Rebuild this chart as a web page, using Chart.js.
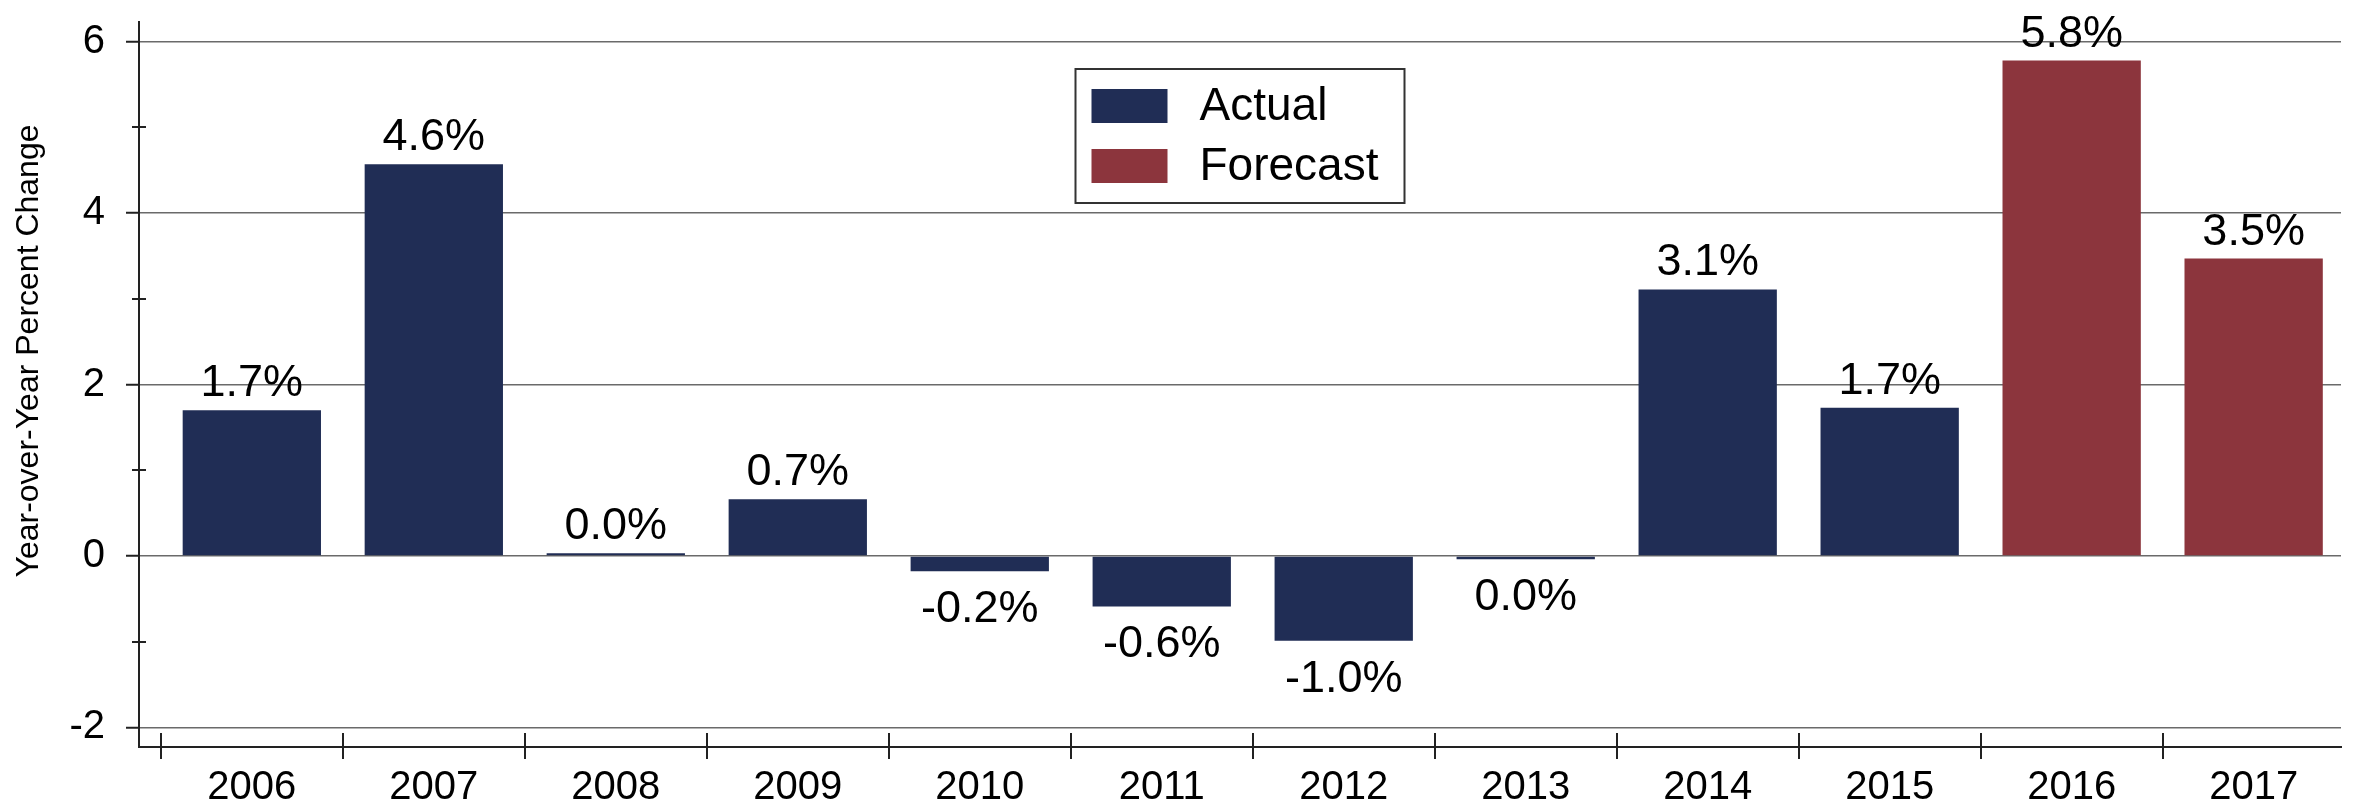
<!doctype html>
<html lang="en">
<head>
  <meta charset="utf-8">
  <title>Year-over-Year Percent Change</title>
  <script src="https://cdn.jsdelivr.net/npm/chart.js/dist/chart.umd.min.js"></script>
  <style>
    * { margin: 0; padding: 0; }
    body { background: #fff; }
    .chartBox { width: 2354px; height: 809px; }
  </style>
</head>
<body>
<div class="chartBox">
  <canvas id="myChart"></canvas>
</div>

<script>
// data
const years = [2006, 2007, 2008, 2009, 2010, 2011, 2012, 2013, 2014, 2015, 2016, 2017];
const actual = [1.7, 4.57, 0.03, 0.66, -0.18, -0.59, -0.99, -0.04, 3.11, 1.73, null, null];
const forecast = [null, null, null, null, null, null, null, null, null, null, 5.78, 3.47];
const yTicks = [-2, -1, 0, 1, 2, 3, 4, 5, 6];
const yTitle = 'Year-over-Year Percent Change';

const FONT = "'Liberation Sans', Arial, sans-serif";

function fmt(v) {
  let s = v.toFixed(1);
  if (s === '-0.0') s = '0.0';
  return s + '%';
}

function isMinor(v) {
  return Math.abs(v % 2) === 1;
}

// value labels above / below the bars
const barLabels = {
  id: 'barLabels',
  afterDatasetsDraw(chart) {
    const ctx = chart.ctx;
    ctx.save();
    ctx.font = '45px ' + FONT;
    ctx.fillStyle = '#000';
    ctx.textAlign = 'center';
    chart.data.datasets.forEach((ds, di) => {
      const meta = chart.getDatasetMeta(di);
      meta.data.forEach((bar, i) => {
        const v = ds.data[i];
        if (v == null) return;
        if (v >= 0) {
          ctx.textBaseline = 'alphabetic';
          ctx.fillText(fmt(v), bar.x, bar.y - 14);
        } else {
          ctx.textBaseline = 'top';
          ctx.fillText(fmt(v), bar.x, bar.y + 16);
        }
      });
    });
    ctx.restore();
  }
};

// small ticks on odd y values, inner half of the x ticks, and the y title
const axisExtras = {
  id: 'axisExtras',
  afterDraw(chart) {
    const ctx = chart.ctx;
    const area = chart.chartArea;
    const x = chart.scales.x;
    const y = chart.scales.y;
    ctx.save();
    ctx.strokeStyle = '#222';
    ctx.lineWidth = 2;
    ctx.beginPath();
    y.ticks.forEach(t => {
      if (isMinor(t.value)) {
        const py = Math.round(y.getPixelForValue(t.value));
        ctx.moveTo(area.left - 7, py);
        ctx.lineTo(area.left + 7, py);
      }
    });
    years.forEach(yr => {
      const px = x.getPixelForValue(yr - 0.5);
      if (px < area.left) return;
      ctx.moveTo(Math.round(px), area.bottom - 14);
      ctx.lineTo(Math.round(px), area.bottom);
    });
    ctx.stroke();

    ctx.translate(38, area.top + 329);
    ctx.rotate(-Math.PI / 2);
    ctx.font = '32px ' + FONT;
    ctx.fillStyle = '#000';
    ctx.textAlign = 'center';
    ctx.textBaseline = 'alphabetic';
    ctx.fillText(yTitle, 0, 0);
    ctx.restore();
  }
};

// boxed legend inside the plot
const boxLegend = {
  id: 'boxLegend',
  afterDraw(chart) {
    const ctx = chart.ctx;
    const area = chart.chartArea;
    const w = 329, h = 134;
    const left = (area.left + area.right) / 2 - w / 2;
    const top = area.top + 47;
    ctx.save();
    ctx.fillStyle = '#fff';
    ctx.fillRect(left, top, w, h);
    ctx.strokeStyle = '#333';
    ctx.lineWidth = 2;
    ctx.strokeRect(left, top, w, h);
    ctx.font = '46px ' + FONT;
    ctx.textAlign = 'left';
    ctx.textBaseline = 'middle';
    chart.data.datasets.forEach((ds, i) => {
      const sy = top + 20 + i * 60;
      ctx.fillStyle = ds.backgroundColor;
      ctx.fillRect(left + 16, sy, 76, 34);
      ctx.fillStyle = '#000';
      ctx.fillText(ds.label, left + 124, sy + 18);
    });
    ctx.restore();
  }
};

const data = {
  labels: years,
  datasets: [{
    label: 'Actual',
    data: actual,
    backgroundColor: '#202d55',
    grouped: false,
    barPercentage: 0.76,
    categoryPercentage: 1.0
  }, {
    label: 'Forecast',
    data: forecast,
    backgroundColor: '#8c353d',
    grouped: false,
    barPercentage: 0.76,
    categoryPercentage: 1.0
  }]
};

const config = {
  type: 'bar',
  data,
  options: {
    responsive: true,
    maintainAspectRatio: false,
    animation: false,
    devicePixelRatio: 1,
    layout: { padding: { left: 0, top: 22, right: 13, bottom: 0 } },
    scales: {
      x: {
        type: 'linear',
        offset: false,
        min: years[0] - 0.62,
        max: years[years.length - 1] + 0.48,
        afterBuildTicks: scale => { scale.ticks = years.map(v => ({ value: v })); },
        afterFit: scale => {
          scale.height = 62;
          scale.paddingLeft = 0;
          scale.paddingRight = 0;
        },
        grid: {
          offset: true,
          drawOnChartArea: false,
          drawTicks: true,
          tickLength: 12,
          color: '#222',
          lineWidth: 2
        },
        border: { display: true, color: '#222', width: 2 },
        ticks: {
          autoSkip: false,
          maxRotation: 0,
          padding: 5,
          color: '#000',
          font: { family: FONT, size: 40 },
          callback: v => String(v)
        }
      },
      y: {
        min: -2.23,
        max: 6.23,
        afterBuildTicks: scale => { scale.ticks = yTicks.map(v => ({ value: v })); },
        afterFit: scale => {
          scale.width = 139;
          scale.paddingTop = 0;
          scale.paddingBottom = 0;
        },
        grid: {
          color: c => (c.tick && isMinor(c.tick.value)) ? 'rgba(0,0,0,0)' : '#6a6a6a',
          tickColor: c => (c.tick && isMinor(c.tick.value)) ? 'rgba(0,0,0,0)' : '#222',
          lineWidth: 1.5,
          tickWidth: 2,
          tickLength: 13
        },
        border: { display: true, color: '#222', width: 2 },
        ticks: {
          padding: 21,
          color: '#000',
          font: { family: FONT, size: 40 },
          callback: v => (isMinor(v) ? '' : String(v))
        }
      }
    },
    plugins: {
      legend: { display: false },
      tooltip: { enabled: false }
    }
  },
  plugins: [barLabels, axisExtras, boxLegend]
};

const myChart = new Chart(document.getElementById('myChart'), config);
</script>
</body>
</html>
